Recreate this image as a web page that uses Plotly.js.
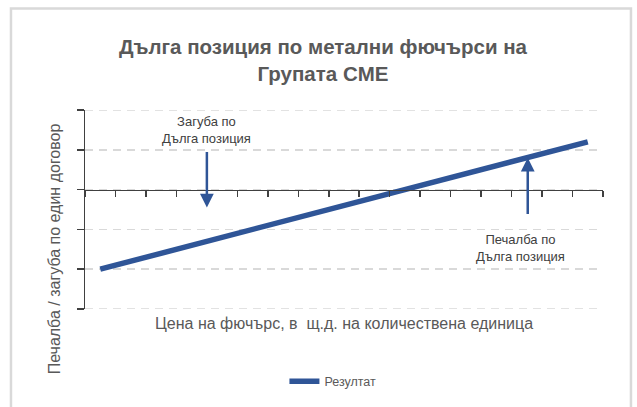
<!DOCTYPE html>
<html>
<head>
<meta charset="utf-8">
<script src="https://cdn.plot.ly/plotly-3.0.1.min.js"></script>
<style>html,body{margin:0;padding:0;background:#fff;}#chart{width:637px;height:407px;}</style>
</head>
<body>
<div id="chart"></div>
<script>
// Data
var categories = [1, 2, 3, 4, 5, 6, 7, 8, 9, 10, 11, 12, 13, 14, 15, 16, 17];
var result = [-2.0, -1.8, -1.6, -1.4, -1.2, -1.0, -0.8, -0.6, -0.4, -0.2, 0.0, 0.2, 0.4, 0.6, 0.8, 1.0, 1.2];
var seriesName = 'Резултат';
var yTicks = [-3, -2, -1, 0, 1, 2];
var xBoundaries = [0.5, 1.5, 2.5, 3.5, 4.5, 5.5, 6.5, 7.5, 8.5, 9.5, 10.5, 11.5, 12.5, 13.5, 14.5, 15.5, 16.5, 17.5];
var chartTitle = 'Дълга позиция по метални фючърси на<br>Групата CME';
var xTitle = 'Цена на фючърс, в  щ.д. на количествена единица';
var yTitle = 'Печалба / загуба по един договор';
var lossLabel = 'Загуба по<br>Дълга позиция';
var gainLabel = 'Печалба по<br>Дълга позиция';

var FONT = '"Liberation Sans", Arial, sans-serif';
var BLUE = '#2F5597';
var GRID = '#d9d9d9';

var trace = {
  x: categories,
  y: result,
  type: 'scatter',
  mode: 'lines',
  name: seriesName,
  line: {color: BLUE, width: 5.5}
};

var edgeGrid = [yTicks[0], yTicks[yTicks.length - 1]].map(function (v) {
  return {type: 'line', xref: 'paper', yref: 'y', x0: 0, x1: 1, y0: v, y1: v,
          line: {color: GRID, width: 1.5, dash: '8px,6px'}, layer: 'below'};
});

var layout = {
  width: 637,
  height: 407,
  margin: {l: 85, r: 34, t: 110, b: 97},
  paper_bgcolor: '#ffffff',
  plot_bgcolor: '#ffffff',
  font: {family: FONT, color: '#595959'},
  title: {
    text: chartTitle,
    font: {family: FONT, size: 20.5, color: '#595959', weight: 'bold'},
    x: 0.507, xanchor: 'center',
    y: 0.867, yanchor: 'middle', yref: 'container'
  },
  showlegend: true,
  legend: {
    orientation: 'h',
    x: 0.385, xanchor: 'left',
    y: -0.358, yanchor: 'middle',
    font: {family: FONT, size: 12.5, color: '#595959'}
  },
  xaxis: {
    range: [0.5, 17.5],
    anchor: 'free',
    position: 0.6,
    showline: true,
    linecolor: '#404040',
    linewidth: 1.5,
    showgrid: false,
    zeroline: false,
    tickmode: 'array',
    tickvals: xBoundaries,
    showticklabels: false,
    ticks: 'outside',
    ticklen: 6,
    tickwidth: 1.5,
    tickcolor: '#404040',
    fixedrange: true
  },
  yaxis: {
    range: [-3, 2],
    showline: true,
    linecolor: '#404040',
    linewidth: 1.5,
    showgrid: true,
    gridcolor: GRID,
    gridwidth: 1.5,
    griddash: '8px,6px',
    zeroline: false,
    tickmode: 'array',
    tickvals: yTicks,
    showticklabels: false,
    ticks: 'outside',
    ticklen: 7,
    tickwidth: 1.5,
    tickcolor: '#404040',
    fixedrange: true
  },
  shapes: edgeGrid.concat([
    {type: 'rect', xref: 'paper', yref: 'paper',
     x0: -0.1429, x1: 1.054, y0: -0.56, y1: 1.51,
     line: {color: '#d9d9d9', width: 2.5}, fillcolor: 'rgba(0,0,0,0)', layer: 'above'}
  ]),
  annotations: [
    // arrows
    {x: 4.5, y: -0.45, ax: 4.5, ay: 0.98, xref: 'x', yref: 'y', axref: 'x', ayref: 'y',
     showarrow: true, arrowhead: 2, arrowsize: 1.1, arrowwidth: 2.5, arrowcolor: BLUE, text: ''},
    {x: 15.03, y: 0.8, ax: 15.03, ay: -0.65, xref: 'x', yref: 'y', axref: 'x', ayref: 'y',
     showarrow: true, arrowhead: 2, arrowsize: 1.1, arrowwidth: 2.5, arrowcolor: BLUE, text: ''},
    // labels
    {x: 4.5, y: 1.5, xref: 'x', yref: 'y', text: lossLabel, showarrow: false,
     font: {family: FONT, size: 13, color: '#404040'}, align: 'center'},
    {x: 14.8, y: -1.46, xref: 'x', yref: 'y', text: gainLabel, showarrow: false,
     font: {family: FONT, size: 13, color: '#404040'}, align: 'center'},
    // axis titles
    {x: 0.5, y: -0.075, xref: 'paper', yref: 'paper', text: xTitle, showarrow: false,
     xanchor: 'center', yanchor: 'middle',
     font: {family: FONT, size: 16, color: '#595959'}},
    {x: -0.0598, y: 0.3, xref: 'paper', yref: 'paper', text: yTitle, showarrow: false,
     textangle: -90, xanchor: 'center', yanchor: 'middle',
     font: {family: FONT, size: 16, color: '#595959'}}
  ]
};

Plotly.newPlot('chart', [trace], layout, {displayModeBar: false, staticPlot: true});
</script>
</body>
</html>
